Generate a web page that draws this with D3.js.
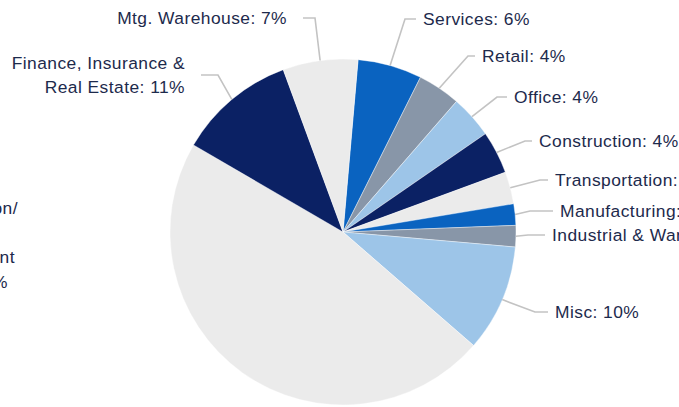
<!DOCTYPE html>
<html>
<head>
<meta charset="utf-8">
<script src="https://cdn.jsdelivr.net/npm/d3@7"></script>
<style>
  html, body { margin: 0; padding: 0; background: #ffffff; }
  svg { display: block; }
  text { font-family: "Liberation Sans", Arial, sans-serif; font-size: 17.4px; fill: #1d2a4c; letter-spacing: 0.45px; }
</style>
</head>
<body>
<script>
// Loan portfolio by industry, clockwise from the top
const categories = [
  "Services", "Retail", "Office", "Construction", "Transportation",
  "Manufacturing", "Industrial & Warehouse", "Misc",
  "Education/ Government", "Finance, Insurance & Real Estate", "Mtg. Warehouse"
];
const shares = [6, 4, 4, 4, 3, 2, 2, 10, 47, 11, 7];
const sliceColors = [
  "#0a63c0", "#8896a8", "#9dc5e8", "#0b2164", "#ebebeb",
  "#0a63c0", "#8896a8", "#9dc5e8", "#ebebeb", "#0b2164", "#ebebeb"
];
// Label text, one entry per line
const labelLines = [
  ["Services: 6%"], ["Retail: 4%"], ["Office: 4%"], ["Construction: 4%"],
  ["Transportation: 3%"], ["Manufacturing: 2%"], ["Industrial & Warehouse: 2%"],
  ["Misc: 10%"], ["Education/", "", "Government", "47%"],
  ["Finance, Insurance &", "Real Estate: 11%"], ["Mtg. Warehouse: 7%"]
];

// Layout: label anchor (x, centre y), side, leader elbow x
const labelLayout = [
  { x: 423, y: 19,  side: "right", elbowX: 405 },
  { x: 482, y: 56,  side: "right", elbowX: 468 },
  { x: 514, y: 97,  side: "right", elbowX: 497 },
  { x: 539, y: 141, side: "right", elbowX: 525 },
  { x: 555, y: 180, side: "right", elbowX: 540 },
  { x: 560, y: 211, side: "right", elbowX: 530 },
  { x: 552, y: 235, side: "right", elbowX: 528 },
  { x: 555, y: 312, side: "right", elbowX: 535 },
  { x: 16,  y: 245, side: "left",  elbowX: null, lineEnds: [18, 16, 15, 8] },
  { x: 185, y: 75,  side: "left",  elbowX: 218 },
  { x: 287, y: 18,  side: "left",  elbowX: 315 }
];

const width = 679, height = 407;
const cx = 343, cy = 232, radius = 173;
const lineHeight = 24.5;

const svg = d3.select("body").append("svg")
  .attr("width", width).attr("height", height);

const pie = d3.pie().sort(null).value(d => d)
  .startAngle(5 * Math.PI / 180)
  .endAngle(365 * Math.PI / 180);
const arcs = pie(shares);

const arc = d3.arc().innerRadius(0).outerRadius(radius);
const edgeArc = d3.arc().innerRadius(radius).outerRadius(radius);

const g = svg.append("g").attr("transform", `translate(${cx},${cy})`);

g.selectAll("path.slice")
  .data(arcs)
  .join("path")
  .attr("class", "slice")
  .attr("d", arc)
  .attr("fill", (d, i) => sliceColors[i])
  .attr("stroke", "#ffffff")
  .attr("stroke-width", 0.4);

// Leader lines: slice edge -> elbow -> label
const leaders = svg.append("g")
  .attr("fill", "none")
  .attr("stroke", "#c3c3c3")
  .attr("stroke-width", 1.6);

arcs.forEach((d, i) => {
  const L = labelLayout[i];
  if (L.elbowX === null) return;
  const [ex, ey] = edgeArc.centroid(d);
  const start = [cx + ex, cy + ey];
  const gap = 7;
  const endX = L.side === "right" ? L.x - gap : L.x + 16;
  const pts = [start, [L.elbowX, L.y], [endX, L.y]];
  leaders.append("path").attr("d", d3.line()(pts));
});

// Labels
const labels = svg.append("g");
arcs.forEach((d, i) => {
  const L = labelLayout[i];
  const lines = labelLines[i];
  const t = labels.append("text")
    .attr("text-anchor", L.side === "right" ? "start" : "end");
  const top = L.y - (lines.length - 1) * lineHeight / 2;
  lines.forEach((s, k) => {
    t.append("tspan")
      .attr("x", L.lineEnds ? L.lineEnds[k] : L.x)
      .attr("y", top + k * lineHeight)
      .attr("dy", "0.35em")
      .text(s);
  });
});
</script>
</body>
</html>
